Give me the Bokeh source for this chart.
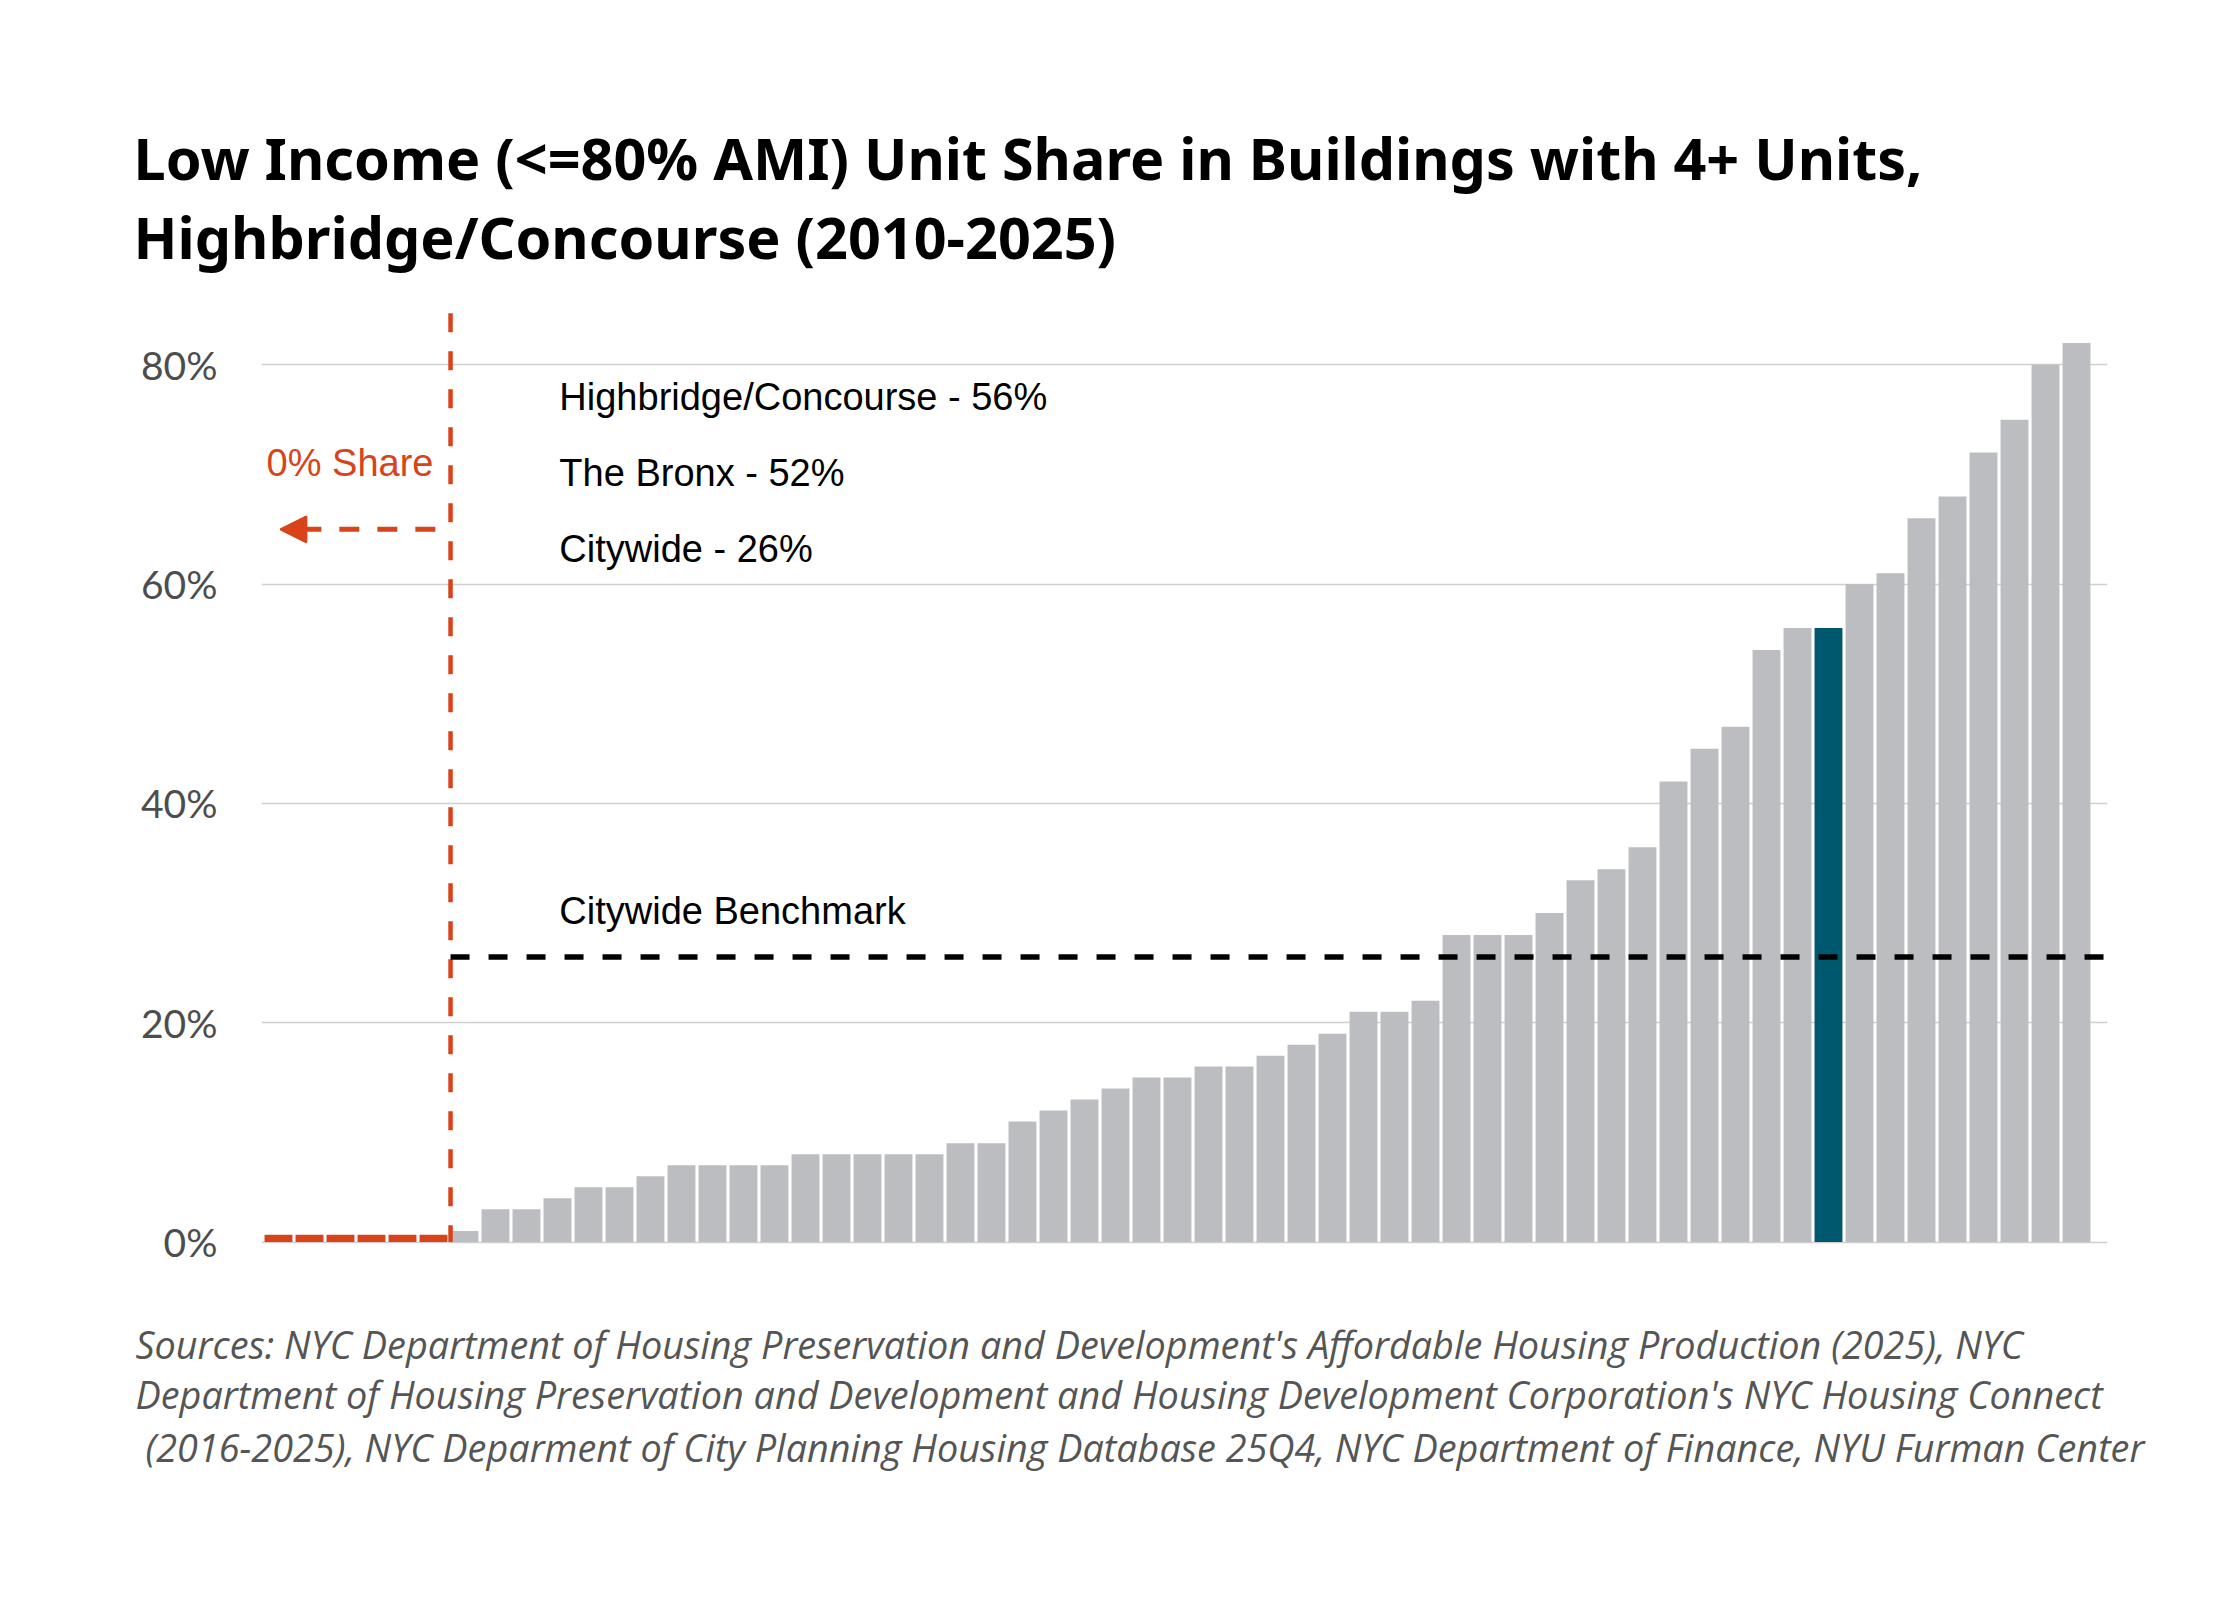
from bokeh.plotting import figure
from bokeh.layouts import column
from bokeh.models import Range1d, FixedTicker, Label, Arrow, NormalHead, ColumnDataSource
from bokeh.core.properties import value
from bokeh.embed import file_html
from bokeh.resources import INLINE

# ---------------- data ----------------
title_lines = [
    "Low Income (<=80% AMI) Unit Share in Buildings with 4+ Units,",
    "Highbridge/Concourse (2010-2025)",
]
source_lines = [
    "Sources: NYC Department of Housing Preservation and Development's Affordable Housing Production (2025), NYC",
    "Department of Housing Preservation and Development and Housing Development Corporation's NYC Housing Connect",
    " (2016-2025), NYC Deparment of City Planning Housing Database 25Q4, NYC Department of Finance, NYU Furman Center",
]
# low-income unit share (%) per community district, sorted ascending
shares = [0, 0, 0, 0, 0, 0,
          1, 3, 3, 4, 5, 5, 6, 7, 7, 7, 7, 8, 8, 8, 8, 8, 9, 9,
          11, 12, 13, 14, 15, 15, 16, 16, 17, 18, 19, 21, 21, 22,
          28, 28, 28, 30, 33, 34, 36, 42, 45, 47, 54, 56, 56,
          60, 61, 66, 68, 72, 75, 80, 82]
highlight_pos = 50            # Highbridge/Concourse
benchmark = 26                # citywide
info_lines = ["Highbridge/Concourse - 56%", "The Bronx - 52%", "Citywide - 26%"]
benchmark_label = "Citywide Benchmark"
zero_label = "0% Share"
y_ticks = [0, 20, 40, 60, 80]
y_tick_labels = ["0%", "20%", "40%", "60%", "80%"]

# ---------------- style ----------------
W = 2224
GREY = "#bcbdc1"
TEAL = "#00586f"
RED = "#d8431a"
BAR_W = 0.9
ZERO_MARK = 0.67
TXT_SHIFT = 1.14   # baseline correction (data units)


def text_fig(height):
    f = figure(width=W, height=height, output_backend="svg", toolbar_location=None,
               tools="", title=None, x_range=Range1d(0, W), y_range=Range1d(height, 0),
               min_border=0, min_border_left=0, min_border_right=0,
               min_border_top=0, min_border_bottom=0, frame_align=False)
    f.axis.visible = False
    f.grid.visible = False
    f.outline_line_color = None
    f.background_fill_color = "white"
    f.border_fill_color = "white"
    return f


# ---- title ----
TOP_H = 280
pt = text_fig(TOP_H)
pt.text(x=[133, 133], y=[157, 236], text=title_lines,
        text_font=value("Noto Sans"), text_font_style="bold", text_font_size="57.5px",
        text_color="black", text_baseline="alphabetic", text_align="left")

# ---- main chart ----
p = figure(width=W, height=1010, output_backend="svg", toolbar_location=None,
           tools="", title=None, frame_align=False,
           x_range=Range1d(-0.548, 59.0), y_range=Range1d(-1.5, 85.96),
           min_border_left=261, min_border_right=117,
           min_border_top=19, min_border_bottom=32)
p.background_fill_color = "white"
p.border_fill_color = "white"
p.outline_line_color = None

xs = list(range(len(shares)))
nz_x = [x for x, v in zip(xs, shares) if v > 0]
nz_v = [v for v in shares if v > 0]
nz_c = [TEAL if x == highlight_pos else GREY for x in nz_x]
z_x = [x for x, v in zip(xs, shares) if v == 0]

p.vbar(x="x", top="top", width=BAR_W, bottom=0, fill_color="color", line_color=None,
       source=ColumnDataSource(dict(x=nz_x, top=nz_v, color=nz_c)))
p.vbar(x=z_x, top=[ZERO_MARK] * len(z_x), bottom=0, width=BAR_W, fill_color=RED, line_color=None)

n_zero = len(z_x)
divider_x = n_zero - 0.5 + (1 - BAR_W) / 2
divider_top = 84.7
p.segment(x0=[divider_x], y0=[divider_top], x1=[divider_x], y1=[0],
          line_color=RED, line_width=4.5, line_dash="19 19")
p.segment(x0=[divider_x], y0=[benchmark], x1=[59.0], y1=[benchmark],
          line_color="black", line_width=5.5, line_dash="19 19")

p.add_layout(Arrow(x_start=n_zero - 0.94, y_start=65, x_end=0.06, y_end=65,
                   line_color=RED, line_width=5, line_dash="20 18",
                   end=NormalHead(size=26, fill_color=RED, line_color=RED, line_width=2)))

p.xaxis.visible = False
p.xgrid.visible = False
p.ygrid.grid_line_color = "#cfcfcf"
p.ygrid.grid_line_width = 1.5
p.yaxis.ticker = FixedTicker(ticks=y_ticks)
p.yaxis.major_label_overrides = dict(zip(y_ticks, y_tick_labels))
p.yaxis.axis_line_color = None
p.yaxis.major_tick_line_color = None
p.yaxis.minor_tick_line_color = None
p.yaxis.major_tick_out = 0
p.yaxis.major_tick_in = 0
p.yaxis.major_label_standoff = 44
p.yaxis.major_label_text_font = "Lato"
p.yaxis.major_label_text_font_size = "39px"
p.yaxis.major_label_text_color = "#4d4d4d"


def lab(text, x, y, size, color, align="left"):
    p.add_layout(Label(x=x, y=y + TXT_SHIFT, text=text, text_font="Liberation Sans",
                       text_font_size=size, text_color=color, text_align=align,
                       text_baseline="alphabetic"))


for t, y in zip(info_lines, [75.9, 69.0, 62.1]):
    lab(t, 9.06, y, "38px", "black")
lab(benchmark_label, 9.06, 29.06, "38px", "black")
lab(zero_label, 5.0, 69.9, "38px", RED, align="right")

# ---- sources ----
BOT_H = 294
ps = text_fig(BOT_H)
ps.text(x=[135, 135, 145], y=[54, 104, 157], text=source_lines,
        text_font=value("Open Sans"), text_font_style="italic", text_font_size="37.8px",
        text_color="#555555", text_baseline="alphabetic", text_align="left")

layout = column(pt, p, ps, spacing=0)
open("out.html", "w").write(file_html(layout, INLINE))
